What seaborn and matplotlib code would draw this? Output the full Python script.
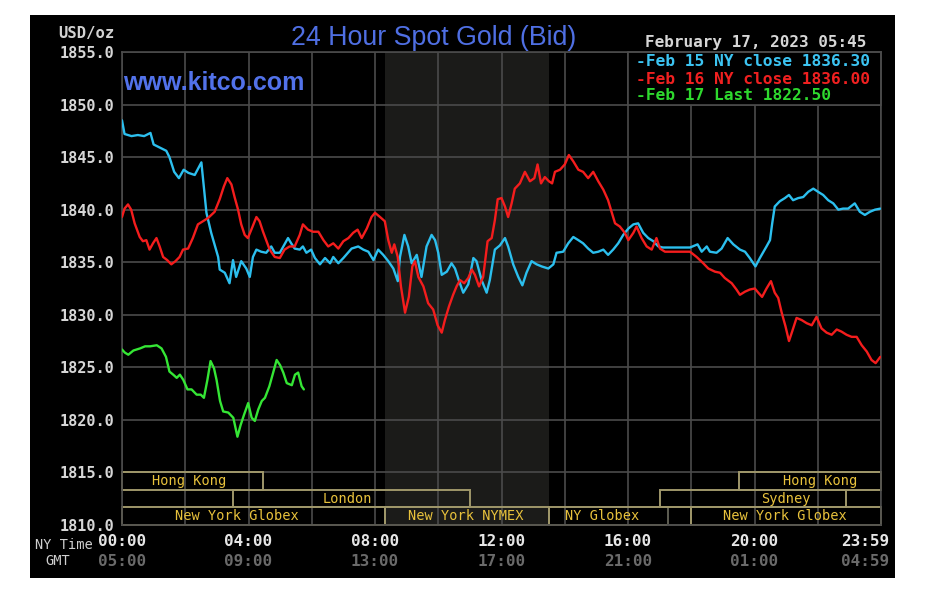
import matplotlib
matplotlib.use("Agg")
import matplotlib.pyplot as plt
import seaborn as sns
import pandas as pd
from matplotlib.patches import Rectangle

# ---------------- data ----------------
blue_t = [0.0, 0.08, 0.3, 0.5, 0.7, 0.9, 1.0, 1.2, 1.4, 1.5, 1.65, 1.8, 1.95, 2.1, 2.3, 2.51, 2.67, 2.82,
          3.04, 3.09, 3.25, 3.40, 3.51, 3.61, 3.77, 3.93, 4.04, 4.14, 4.25, 4.40, 4.56, 4.72, 4.83, 4.99,
          5.14, 5.25, 5.35, 5.46, 5.62, 5.72, 5.83, 5.98, 6.10, 6.26, 6.42, 6.58, 6.68, 6.84, 7.0, 7.26,
          7.47, 7.63, 7.79, 7.95, 8.10, 8.26, 8.42, 8.58, 8.72, 8.79, 8.93, 9.05, 9.16, 9.32, 9.47, 9.63,
          9.79, 9.90, 10.0, 10.11, 10.27, 10.42, 10.53, 10.65, 10.79, 10.95, 11.11, 11.21, 11.37, 11.53,
          11.63, 11.79, 11.95, 12.11, 12.21, 12.37, 12.53, 12.66, 12.79, 12.95, 13.11, 13.27, 13.48, 13.64,
          13.74, 13.95, 14.11, 14.27, 14.43, 14.58, 14.74, 14.90, 15.06, 15.22, 15.37, 15.53, 15.69, 15.85,
          16.01, 16.17, 16.32, 16.48, 16.64, 16.80, 16.96, 17.1, 17.96, 18.2, 18.33, 18.49, 18.59, 18.80,
          18.96, 19.15, 19.33, 19.54, 19.70, 19.85, 20.03, 20.17, 20.38, 20.49, 20.56, 20.64, 20.80, 20.96,
          21.09, 21.22, 21.38, 21.54, 21.70, 21.86, 22.01, 22.17, 22.33, 22.49, 22.65, 22.80, 22.96, 23.17,
          23.33, 23.49, 23.65, 23.81, 23.98]
blue_v = [1848.5, 1847.2, 1847.0, 1847.1, 1847.0, 1847.3, 1846.2, 1845.9, 1845.6, 1845.0, 1843.6, 1843.0,
          1843.8, 1843.5, 1843.3, 1844.5, 1839.7, 1837.8, 1835.5, 1834.3, 1834.0, 1833.0, 1835.2, 1833.6,
          1835.1, 1834.4, 1833.6, 1835.5, 1836.2, 1836.0, 1835.9, 1836.5, 1835.9, 1835.9, 1836.7, 1837.3,
          1836.8, 1836.3, 1836.2, 1836.5, 1835.9, 1836.2, 1835.4, 1834.8, 1835.4, 1834.9, 1835.5, 1834.9,
          1835.4, 1836.3, 1836.5, 1836.2, 1836.0, 1835.2, 1836.2, 1835.7, 1835.1, 1834.4, 1833.2, 1835.5,
          1837.6, 1836.5, 1834.9, 1835.7, 1833.6, 1836.5, 1837.6, 1837.1, 1835.9, 1833.8, 1834.1, 1834.9,
          1834.4, 1833.3, 1832.1, 1832.9, 1835.4, 1835.1, 1833.3, 1832.1, 1833.3, 1836.2, 1836.6, 1837.3,
          1836.5, 1834.8, 1833.6, 1832.8, 1834.0, 1835.1, 1834.8, 1834.6, 1834.4, 1834.8, 1835.9, 1836.0,
          1836.8, 1837.4, 1837.1, 1836.8, 1836.3, 1835.9, 1836.0, 1836.2, 1835.7, 1836.2, 1836.8, 1837.6,
          1838.2, 1838.6, 1838.7, 1837.8, 1837.3, 1837.0, 1836.5, 1836.4, 1836.4, 1836.7, 1836.0, 1836.5,
          1836.0, 1835.9, 1836.3, 1837.3, 1836.7, 1836.2, 1836.0, 1835.4, 1834.6, 1835.4, 1836.5, 1837.1,
          1838.7, 1840.3, 1840.8, 1841.1, 1841.4, 1840.9, 1841.1, 1841.2, 1841.7, 1842.0, 1841.7, 1841.4,
          1840.9, 1840.6, 1840.0, 1840.1, 1840.1, 1840.6, 1839.8, 1839.5, 1839.8, 1840.0, 1840.1]

red_t = [0.0, 0.08, 0.19, 0.29, 0.40, 0.56, 0.66, 0.77, 0.87, 0.98, 1.09, 1.19, 1.30, 1.43, 1.56, 1.69,
         1.82, 1.93, 2.09, 2.24, 2.40, 2.56, 2.72, 2.93, 3.09, 3.22, 3.33, 3.46, 3.56, 3.67, 3.77, 3.88,
         3.98, 4.09, 4.25, 4.35, 4.46, 4.56, 4.67, 4.83, 4.99, 5.14, 5.30, 5.46, 5.62, 5.72, 5.88, 6.04,
         6.21, 6.37, 6.52, 6.68, 6.84, 7.0, 7.16, 7.31, 7.45, 7.58, 7.74, 7.89, 8.00, 8.16, 8.31, 8.42,
         8.53, 8.61, 8.72, 8.82, 8.95, 9.07, 9.18, 9.26, 9.37, 9.53, 9.68, 9.84, 9.98, 10.11, 10.21, 10.34,
         10.47, 10.58, 10.69, 10.82, 10.95, 11.06, 11.16, 11.29, 11.42, 11.56, 11.69, 11.79, 11.88, 12.0,
         12.11, 12.21, 12.32, 12.42, 12.58, 12.74, 12.90, 13.04, 13.14, 13.25, 13.37, 13.50, 13.60, 13.69,
         13.85, 14.0, 14.13, 14.27, 14.43, 14.58, 14.74, 14.90, 15.06, 15.22, 15.37, 15.48, 15.59, 15.74,
         15.90, 16.01, 16.17, 16.27, 16.43, 16.59, 16.75, 16.90, 17.01, 17.17, 17.96, 18.17, 18.38, 18.54,
         18.75, 18.91, 19.06, 19.28, 19.43, 19.54, 19.70, 19.85, 20.01, 20.12, 20.24, 20.38, 20.52, 20.64,
         20.75, 20.86, 20.98, 21.09, 21.19, 21.33, 21.49, 21.65, 21.81, 21.96, 22.12, 22.28, 22.44, 22.60,
         22.75, 22.91, 23.07, 23.23, 23.39, 23.55, 23.70, 23.83, 23.98]
red_v = [1839.3, 1840.1, 1840.5, 1840.0, 1838.7, 1837.4, 1837.0, 1837.1, 1836.2, 1836.8, 1837.3, 1836.5,
         1835.5, 1835.2, 1834.8, 1835.1, 1835.5, 1836.2, 1836.3, 1837.3, 1838.6, 1838.9, 1839.2, 1839.8,
         1841.0, 1842.2, 1843.0, 1842.4, 1841.2, 1840.0, 1838.6, 1837.6, 1837.3, 1838.1, 1839.3, 1838.9,
         1837.9, 1837.1, 1836.2, 1835.5, 1835.4, 1836.2, 1836.5, 1836.5, 1837.6, 1838.6, 1838.1, 1837.9,
         1837.9, 1837.1, 1836.5, 1836.8, 1836.3, 1837.0, 1837.3, 1837.8, 1838.1, 1837.3, 1838.2, 1839.3,
         1839.7, 1839.3, 1838.9, 1837.1, 1835.9, 1836.7, 1835.5, 1832.7, 1830.2, 1831.7, 1834.6, 1835.1,
         1833.6, 1832.7, 1831.1, 1830.5, 1829.0, 1828.3, 1829.5, 1830.8, 1831.9, 1832.7, 1833.3, 1833.0,
         1833.5, 1834.3, 1833.8, 1832.7, 1833.6, 1837.0, 1837.3, 1839.0, 1841.0, 1841.1, 1840.3, 1839.3,
         1840.6, 1842.0, 1842.5, 1843.6, 1842.7, 1843.0, 1844.3, 1842.5, 1843.1, 1842.7, 1842.5, 1843.6,
         1843.8, 1844.3, 1845.2, 1844.6, 1843.8, 1843.6, 1843.0, 1843.6, 1842.7, 1841.9, 1840.9, 1839.8,
         1838.7, 1838.4, 1837.8, 1837.1, 1837.8, 1838.4, 1837.3, 1836.5, 1836.2, 1837.3, 1836.3, 1836.0,
         1836.0, 1835.5, 1834.9, 1834.4, 1834.1, 1834.0, 1833.5, 1833.0, 1832.4, 1831.9, 1832.2, 1832.4,
         1832.5, 1832.1, 1831.7, 1832.5, 1833.2, 1832.1, 1831.6, 1830.2, 1828.9, 1827.5, 1828.4, 1829.7,
         1829.5, 1829.2, 1829.0, 1829.8, 1828.7, 1828.3, 1828.1, 1828.6, 1828.4, 1828.1, 1827.9, 1827.9,
         1827.1, 1826.5, 1825.7, 1825.4, 1826.0]

green_t = [0.0, 0.09, 0.2, 0.36, 0.57, 0.73, 0.89, 1.10, 1.25, 1.39, 1.50, 1.62, 1.73, 1.83, 1.94, 2.07,
           2.20, 2.36, 2.49, 2.59, 2.70, 2.80, 2.91, 2.99, 3.10, 3.20, 3.36, 3.52, 3.65, 3.75, 3.86, 3.99,
           4.10, 4.20, 4.31, 4.42, 4.52, 4.66, 4.78, 4.89, 5.0, 5.10, 5.21, 5.37, 5.47, 5.57, 5.68, 5.75]
green_v = [1826.7, 1826.4, 1826.2, 1826.6, 1826.8, 1827.0, 1827.0, 1827.1, 1826.8, 1826.0, 1824.6, 1824.3,
           1824.0, 1824.3, 1823.8, 1822.9, 1822.9, 1822.4, 1822.4, 1822.1, 1823.8, 1825.6, 1824.9, 1823.8,
           1821.8, 1820.8, 1820.7, 1820.2, 1818.4, 1819.5, 1820.5, 1821.6, 1820.2, 1819.9, 1821.0, 1821.8,
           1822.1, 1823.2, 1824.5, 1825.7, 1825.2, 1824.5, 1823.5, 1823.3, 1824.3, 1824.5, 1823.2, 1822.9]

series_names = ["Feb 15", "Feb 16", "Feb 17"]
legend_labels = ["-Feb 15 NY close 1836.30", "-Feb 16 NY close 1836.00", "-Feb 17 Last 1822.50"]
series_colors = ["#2cbfee", "#f41d1d", "#35e635"]
legend_colors = ["#3cc4f2", "#f02020", "#2ed82e"]

y_ticks = [1810, 1815, 1820, 1825, 1830, 1835, 1840, 1845, 1850, 1855]
x_tick_pos = [0, 4, 8, 12, 16, 20, 23.5]
ny_labels = ["00:00", "04:00", "08:00", "12:00", "16:00", "20:00", "23:59"]
gmt_labels = ["05:00", "09:00", "13:00", "17:00", "21:00", "01:00", "04:59"]

# sessions: (label, start hour, end hour, row, label x)
sess_label = ["Hong Kong", "London", "New York Globex", "New York NYMEX", "NY Globex", "", "New York Globex",
              "Sydney", "Hong Kong"]
sess_start = [0, 3.5, 0, 8.33, 13.5, 17.25, 18.0, 17.0, 19.5]
sess_end = [4.45, 11.0, 8.33, 13.5, 17.25, 18.0, 24.0, 22.9, 24.0]
sess_row = [0, 1, 2, 2, 2, 2, 2, 1, 0]
sess_text_x = [2.12, 7.14, 3.64, 10.88, 15.18, 17.6, 20.95, 20.99, 22.07]
nymex_start, nymex_end = 8.33, 13.5

# ---------------- figure ----------------
sns.set_theme(style="dark")
plt.rcParams['font.family'] = ['DejaVu Sans Mono', 'DejaVu Sans']

W, H = 926, 596
fig = plt.figure(figsize=(W / 100, H / 100), dpi=100, facecolor="white")
fig.patches.append(Rectangle((30 / W, 1 - 578 / H), (895 - 30) / W, (578 - 15) / H,
                             transform=fig.transFigure, facecolor="black", edgecolor="none", zorder=-5))
ax = fig.add_axes([122 / W, 1 - 525 / H, (881 - 122) / W, (525 - 52) / H])
ax.set_zorder(1)
ax.set_facecolor("black")

grid_c = "#4b4b4b"
ax.axvspan(nymex_start, nymex_end, color="#1b1b19", zorder=0.5, lw=0)
for h in range(0, 25, 2):
    ax.axvline(h, color=grid_c, lw=1.2, zorder=1)
for v in y_ticks:
    ax.axhline(v, color=grid_c, lw=1.2, zorder=1)
for s in ax.spines.values():
    s.set_color(grid_c)
    s.set_linewidth(1.2)

# legend cell
ax.add_patch(Rectangle((16, 1850), 8, 5, facecolor="black", edgecolor=grid_c, lw=1.2, zorder=1.5,
                       clip_on=False))

# session boxes
row_h = 5 / 3
box_c = "#9f976a"
for lab, s0, s1, r, tx in zip(sess_label, sess_start, sess_end, sess_row, sess_text_x):
    y0 = 1815 - (r + 1) * row_h
    ax.add_patch(Rectangle((s0, y0), s1 - s0, row_h, facecolor="none",
                           edgecolor=box_c if lab else "#5a5a50", lw=1.4, zorder=2, clip_on=False))
    if lab:
        ax.text(tx, y0 + row_h / 2, lab, ha="center", va="center", color="#e8c23c",
                fontsize=9.8, family="DejaVu Sans Mono", zorder=3)

# series
df = pd.concat([
    pd.DataFrame({"hour": blue_t, "price": blue_v, "series": series_names[0]}),
    pd.DataFrame({"hour": red_t, "price": red_v, "series": series_names[1]}),
    pd.DataFrame({"hour": green_t, "price": green_v, "series": series_names[2]}),
])
sns.lineplot(data=df, x="hour", y="price", hue="series", palette=dict(zip(series_names, series_colors)),
             estimator=None, sort=False, lw=1.7, legend=False, ax=ax, zorder=4)

ax.set_xlim(0, 24)
ax.set_ylim(1810, 1855)
ax.set_xlabel("")
ax.set_ylabel("")
ax.grid(False)
ax.set_yticks(y_ticks)
ax.set_yticklabels([f"{v:.1f}" for v in y_ticks], color="#d6d6d6", fontsize=11, fontweight="bold",
                   family="DejaVu Sans Mono")
ax.set_xticks([])
ax.tick_params(axis="y", length=0, pad=5.8)

xt = ax.get_xaxis_transform()
for p, a, b in zip(x_tick_pos, ny_labels, gmt_labels):
    ax.text(p, -16 / 473, a, transform=xt, ha="center", va="center", color="#e6e6e6", fontsize=11.5,
            fontweight="bold", family="DejaVu Sans Mono", clip_on=False)
    ax.text(p, -36 / 473, b, transform=xt, ha="center", va="center", color="#6a6a6a", fontsize=11.5,
            fontweight="bold", family="DejaVu Sans Mono", clip_on=False)
fig.text(35 / W, 1 - 545 / H, "NY Time", ha="left", va="center", color="#cfcfcf", fontsize=9.8,
         family="DejaVu Sans Mono")
fig.text(57.5 / W, 1 - 561 / H, "GMT", ha="center", va="center", color="#cfcfcf", fontsize=9.8,
         family="DejaVu Sans Mono")
fig.text(86 / W, 1 - 33.5 / H, "USD/oz", ha="center", va="center", color="#d2d2d2", fontsize=11.2,
         fontweight="bold", family="DejaVu Sans Mono")

fig.text(434 / W, 1 - 38 / H, "24 Hour Spot Gold (Bid)", ha="center", va="center", color="#4f6fe3",
         fontsize=19.3, family="Liberation Sans")
fig.text(123 / W, 1 - 83 / H, "www.kitco.com", ha="left", va="center", color="#5272ea", fontsize=18,
         fontweight="bold", family="Liberation Sans", zorder=5)
fig.text(866 / W, 1 - 42.5 / H, "February 17, 2023 05:45", ha="right", va="center", color="#d6d6d6",
         fontsize=11.5, fontweight="bold", family="DejaVu Sans Mono")

for i, (lab, c) in enumerate(zip(legend_labels, legend_colors)):
    fig.text(636 / W, 1 - (62 + 17 * i) / H, lab, ha="left", va="center", color=c, fontsize=11.7,
             fontweight="bold", family="DejaVu Sans Mono", zorder=5)

fig.savefig("out.png", dpi=100, facecolor="white")
